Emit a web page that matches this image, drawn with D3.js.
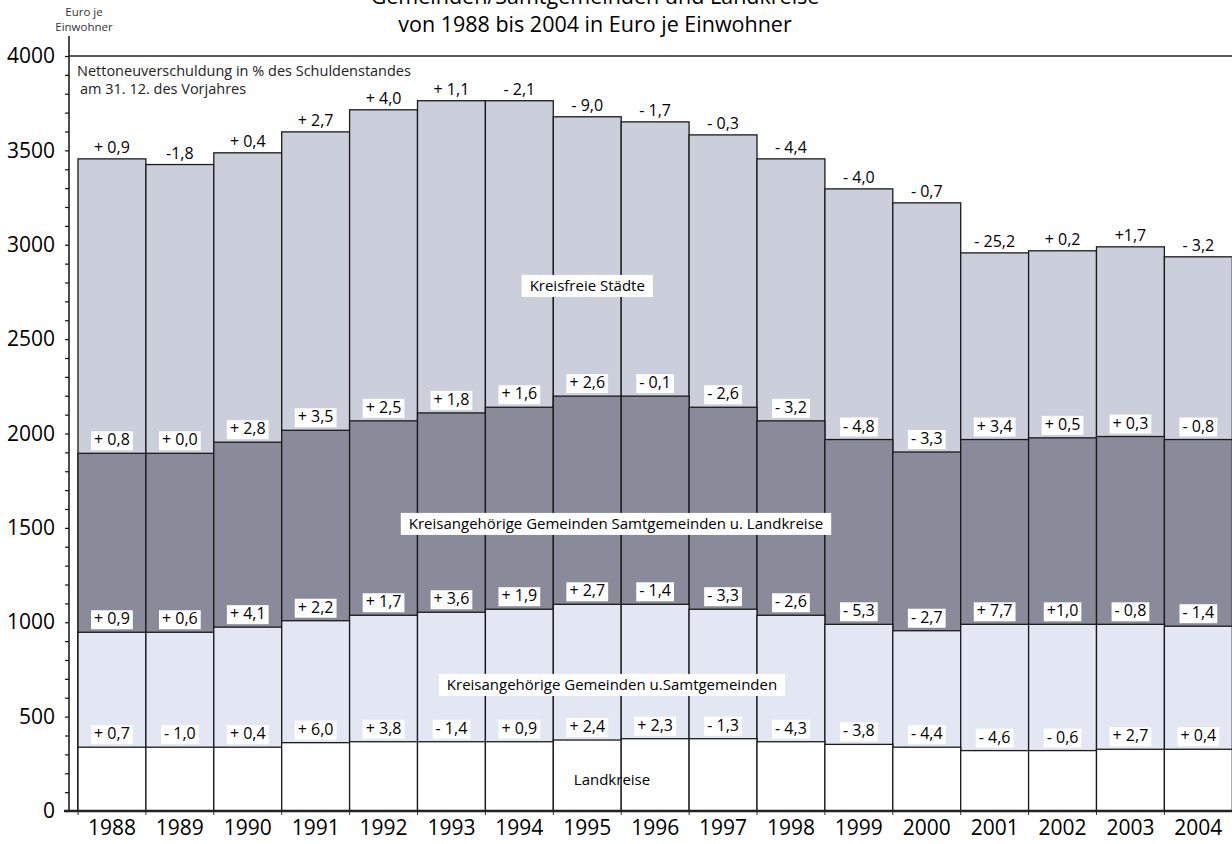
<!DOCTYPE html>
<html>
<head>
<meta charset="utf-8">
<script src="https://cdn.jsdelivr.net/npm/d3@7"></script>
<style>
  body { margin: 0; background: #fff; }
  svg { display: block; font-family: "Open Sans", "Noto Sans", sans-serif; }
</style>
</head>
<body>
<svg width="1232" height="844"></svg>
<script>
const svg = d3.select("svg");

// data
const years = [1988, 1989, 1990, 1991, 1992, 1993, 1994, 1995, 1996, 1997, 1998, 1999, 2000, 2001, 2002, 2003, 2004];
const staedte    = [3455, 3425, 3487, 3598, 3715, 3763, 3763, 3678, 3651, 3582, 3455, 3296, 3222, 2957, 2968, 2989, 2936];
const gemLk      = [1895, 1895, 1954, 2017, 2067, 2109, 2139, 2198, 2198, 2139, 2067, 1968, 1902, 1968, 1977, 1984, 1968];
const gemeinden  = [947, 947, 974, 1008, 1037, 1053, 1069, 1095, 1095, 1069, 1037, 989, 955, 989, 989, 989, 979];
const landkreise = [338, 338, 338, 362, 367, 367, 367, 376, 383, 383, 367, 353, 338, 320, 320, 327, 327];

const pctStaedte = ["+ 0,9", "-1,8", "+ 0,4", "+ 2,7", "+ 4,0", "+ 1,1", "- 2,1", "- 9,0", "- 1,7", "- 0,3", "- 4,4", "- 4,0", "- 0,7", "- 25,2", "+ 0,2", "+1,7", "- 3,2"];
const pctGemLk = ["+ 0,8", "+ 0,0", "+ 2,8", "+ 3,5", "+ 2,5", "+ 1,8", "+ 1,6", "+ 2,6", "- 0,1", "- 2,6", "- 3,2", "- 4,8", "- 3,3", "+ 3,4", "+ 0,5", "+ 0,3", "- 0,8"];
const pctGemeinden = ["+ 0,9", "+ 0,6", "+ 4,1", "+ 2,2", "+ 1,7", "+ 3,6", "+ 1,9", "+ 2,7", "- 1,4", "- 3,3", "- 2,6", "- 5,3", "- 2,7", "+ 7,7", "+1,0", "- 0,8", "- 1,4"];
const pctLandkreise = ["+ 0,7", "- 1,0", "+ 0,4", "+ 6,0", "+ 3,8", "- 1,4", "+ 0,9", "+ 2,4", "+ 2,3", "- 1,3", "- 4,3", "- 3,8", "- 4,4", "- 4,6", "- 0,6", "+ 2,7", "+ 0,4"];

const seriesNames = ["Kreisfreie Städte", "Kreisangehörige Gemeinden Samtgemeinden u. Landkreise", "Kreisangehörige Gemeinden u.Samtgemeinden", "Landkreise"];
const yTicks = [0, 500, 1000, 1500, 2000, 2500, 3000, 3500, 4000];

const x = d3.scaleBand().domain(years).range([78, 78 + 17 * 67.9]).padding(0);
const y = d3.scaleLinear().domain([0, 4000]).range([811, 56]);

const layers = [
  { vals: staedte, pct: pctStaedte, fill: "#cbcfdb", box: false },
  { vals: gemLk, pct: pctGemLk, fill: "#8a8b9a", box: true },
  { vals: gemeinden, pct: pctGemeinden, fill: "#e2e7f3", box: true },
  { vals: landkreise, pct: pctLandkreise, fill: "#ffffff", box: true }
];

// bars, biggest first
layers.forEach(function(l) {
  svg.append("g").selectAll("rect")
    .data(years)
    .join("rect")
    .attr("x", d => x(d))
    .attr("y", (d, i) => y(l.vals[i]))
    .attr("width", x.bandwidth())
    .attr("height", (d, i) => y(0) - y(l.vals[i]))
    .attr("fill", l.fill)
    .attr("stroke", "#1a1a1a")
    .attr("stroke-width", 1.3);
});

// percent labels
layers.forEach(function(l) {
  const g = svg.append("g");
  years.forEach(function(yr, i) {
    const cx = x(yr) + x.bandwidth() / 2;
    const base = y(l.vals[i]) - (l.box ? 8 : 6);
    const t = g.append("text")
      .attr("x", cx).attr("y", base)
      .attr("text-anchor", "middle")
      .attr("font-size", 16)
      .attr("fill", "#000")
      .text(l.pct[i]);
    if (l.box) {
      const w = t.node().getComputedTextLength();
      g.insert("rect", () => t.node())
        .attr("x", cx - w / 2 - 3).attr("y", base - 14)
        .attr("width", w + 6).attr("height", 19)
        .attr("fill", "#fff");
    }
  });
});

// series names
const namePos = [
  { x: x(1995) + x.bandwidth() / 2, v: 2782, box: true },
  { x: 616, v: 1521, box: true },
  { x: 612, v: 668, box: true },
  { x: 612, v: 164, box: false }
];
seriesNames.forEach(function(n, i) {
  const p = namePos[i];
  const t = svg.append("text")
    .attr("x", p.x).attr("y", y(p.v) + 5)
    .attr("text-anchor", "middle")
    .attr("font-size", 15)
    .attr("fill", "#000")
    .text(n);
  if (p.box) {
    const w = t.node().getComputedTextLength();
    svg.insert("rect", () => t.node())
      .attr("x", p.x - w / 2 - 8).attr("y", y(p.v) - 11)
      .attr("width", w + 16).attr("height", 22)
      .attr("fill", "#fff");
  }
});

// y axis
const yAxis = d3.axisLeft(y).tickValues(d3.range(0, 4001, 100)).tickSize(4)
  .tickFormat(d => yTicks.includes(d) ? d : "");
const ya = svg.append("g").attr("transform", "translate(69,0)").call(yAxis);
ya.select(".domain").remove();
ya.selectAll("line").attr("stroke", "#111").attr("stroke-width", 1.2);
ya.selectAll("text").attr("font-size", 21).attr("fill", "#000").attr("x", -14)
  .attr("font-family", "Open Sans, sans-serif");
svg.append("line").attr("x1", 69).attr("x2", 69).attr("y1", 36).attr("y2", y(0))
  .attr("stroke", "#111").attr("stroke-width", 1.5);

// top frame line at 4000
svg.append("line").attr("x1", 69).attr("x2", 1232).attr("y1", y(4000)).attr("y2", y(4000))
  .attr("stroke", "#222").attr("stroke-width", 1.4);

// x axis
const xAxis = d3.axisBottom(x).tickSize(0).tickPadding(9);
const xa = svg.append("g").attr("transform", "translate(0," + y(0) + ")").call(xAxis);
xa.select(".domain").remove();
xa.selectAll("text").attr("font-size", 21).attr("fill", "#000")
  .attr("font-family", "Open Sans, sans-serif");
svg.append("g").selectAll("line")
  .data(years)
  .join("line")
  .attr("x1", d => x(d)).attr("x2", d => x(d))
  .attr("y1", y(0)).attr("y2", y(0) + 4)
  .attr("stroke", "#333").attr("stroke-width", 1);
svg.append("line").attr("x1", 64).attr("x2", 1232).attr("y1", y(0)).attr("y2", y(0))
  .attr("stroke", "#222").attr("stroke-width", 2.4);

// titles and notes
svg.append("text").attr("x", 595).attr("y", 4).attr("text-anchor", "middle")
  .attr("font-size", 21.5).attr("fill", "#000").text("Gemeinden/Samtgemeinden und Landkreise");
svg.append("text").attr("x", 595).attr("y", 32).attr("text-anchor", "middle")
  .attr("font-size", 21.5).attr("fill", "#000").text("von 1988 bis 2004 in Euro je Einwohner");
svg.append("text").attr("x", 84).attr("y", 16).attr("text-anchor", "middle")
  .attr("font-size", 11.5).attr("fill", "#333").text("Euro je");
svg.append("text").attr("x", 84).attr("y", 31).attr("text-anchor", "middle")
  .attr("font-size", 11.5).attr("fill", "#333").text("Einwohner");
svg.append("text").attr("x", 77).attr("y", 76)
  .attr("font-size", 14.5).attr("fill", "#222").text("Nettoneuverschuldung in % des Schuldenstandes");
svg.append("text").attr("x", 80).attr("y", 94)
  .attr("font-size", 14.5).attr("fill", "#222").text("am 31. 12. des Vorjahres");
</script>
</body>
</html>
